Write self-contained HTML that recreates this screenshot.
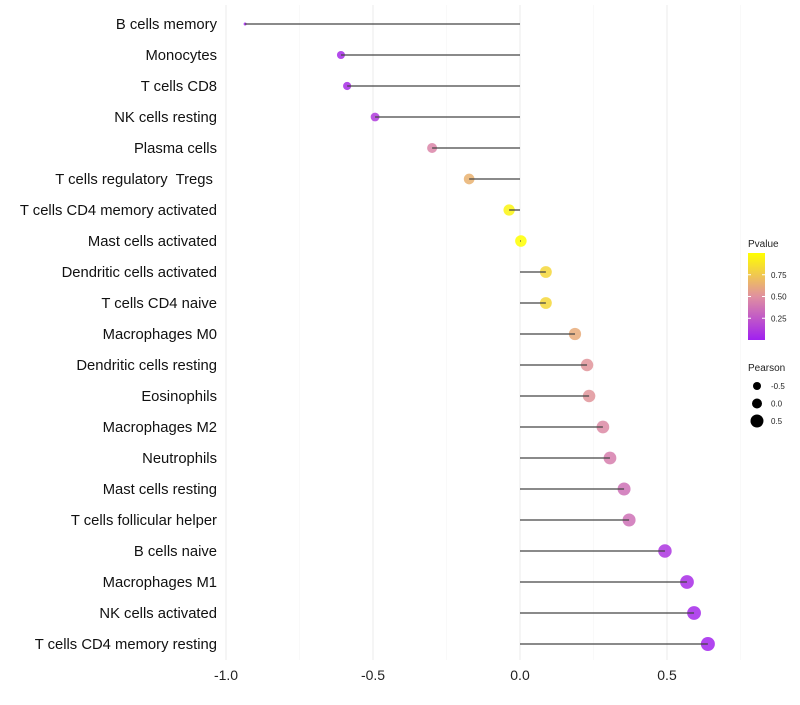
<!DOCTYPE html>
<html><head><meta charset="utf-8"><style>
body{margin:0;background:#fff;font-family:"Liberation Sans",sans-serif;}
svg text{font-family:"Liberation Sans",sans-serif;white-space:pre;}
</style></head><body>
<svg id="chart" width="800" height="700"></svg>
<script>
const categories=["B cells memory","Monocytes","T cells CD8","NK cells resting","Plasma cells","T cells regulatory  Tregs ","T cells CD4 memory activated","Mast cells activated","Dendritic cells activated","T cells CD4 naive","Macrophages M0","Dendritic cells resting","Eosinophils","Macrophages M2","Neutrophils","Mast cells resting","T cells follicular helper","B cells naive","Macrophages M1","NK cells activated","T cells CD4 memory resting"];
const pearson=[-0.935,-0.609,-0.588,-0.493,-0.299,-0.173,-0.037,0.003,0.088,0.088,0.187,0.228,0.235,0.282,0.306,0.354,0.371,0.493,0.568,0.592,0.639];
const pvalue=[0.02,0.05,0.06,0.12,0.45,0.65,0.95,1.0,0.82,0.82,0.62,0.52,0.52,0.47,0.42,0.36,0.36,0.1,0.06,0.04,0.02];
const xTicks=[-1.0,-0.5,0.0,0.5];
const xTickLabels=["-1.0","-0.5","0.0","0.5"];
const pTicks=[0.25,0.5,0.75];
const sizeTicks=[-0.5,0.0,0.5];
const NS="http://www.w3.org/2000/svg";
const svg=document.getElementById('chart');
function mk(t,a,p){const e=document.createElementNS(NS,t);for(const k in a)e.setAttribute(k,a[k]);(p||svg).appendChild(e);return e;}
const x=v=>520+v*294;
const y=i=>24+i*31;
const rad=v=>1.5+5.5*Math.sqrt(Math.max(0,(v+0.935)/1.574));
function lerp(a,b,t){return a.map((c,i)=>Math.round(c+(b[i]-c)*t));}
function col(p){const s0=[160,32,240],s1=[224,144,160],s2=[255,255,0];const c=p<0.5?lerp(s0,s1,p/0.5):lerp(s1,s2,(p-0.5)/0.5);return `rgb(${c})`;}
for(const t of xTicks){const g=mk('line',{x1:x(t),x2:x(t),y1:5,y2:660,stroke:'#ebebeb','stroke-width':1});
}
for(const t of [-0.75,-0.25,0.25,0.75]){const g=mk('line',{x1:x(t),x2:x(t),y1:5,y2:660,stroke:'#f5f5f5','stroke-width':0.6});
}
xTicks.forEach((t,i)=>{const tx=mk('text',{x:x(t),y:680,'text-anchor':'middle','font-size':14,fill:'#222'});tx.textContent=xTickLabels[i];
});
categories.forEach((c,i)=>{
const lb=mk('text',{x:217,y:y(i)+5,'text-anchor':'end','font-size':14.8,fill:'#111'});lb.textContent=c;

const pt=mk('circle',{cx:x(pearson[i]),cy:y(i),r:rad(pearson[i]),fill:col(pvalue[i]),'fill-opacity':0.85});

const sg=mk('line',{x1:x(0),x2:x(pearson[i]),y1:y(i),y2:y(i),stroke:'#444','stroke-width':1.3});

});
const lg=mk('g',{});
const t1=mk('text',{x:748,y:247,'font-size':10,fill:'#222'},lg);t1.textContent='Pvalue';

const defs=mk('defs',{});const gr=mk('linearGradient',{id:'pg',x1:0,y1:1,x2:0,y2:0},defs);
[0,0.25,0.5,0.75,1].forEach(p=>mk('stop',{offset:p,'stop-color':col(p)},gr));
const cb=mk('rect',{x:748,y:253,width:17,height:87,fill:'url(#pg)'},lg);

const py=p=>340-p*87;
pTicks.forEach(p=>{mk('line',{x1:748,x2:751,y1:py(p),y2:py(p),stroke:'#fff'},lg);mk('line',{x1:762,x2:765,y1:py(p),y2:py(p),stroke:'#fff'},lg);
const t=mk('text',{x:771,y:py(p)+3,'font-size':8,fill:'#222'},lg);t.textContent=p.toFixed(2);
});
const t2=mk('text',{x:748,y:371,'font-size':10,fill:'#222'},lg);t2.textContent='Pearson';

const legR=[4,5,6.5];
sizeTicks.forEach((s,i)=>{const cy=386+i*17.5;const c=mk('circle',{cx:757,cy:cy,r:legR[i],fill:'#000'},lg);

const t=mk('text',{x:771,y:cy+3,'font-size':8,fill:'#222'},lg);t.textContent=s.toFixed(1);
});
</script>
</body></html>
